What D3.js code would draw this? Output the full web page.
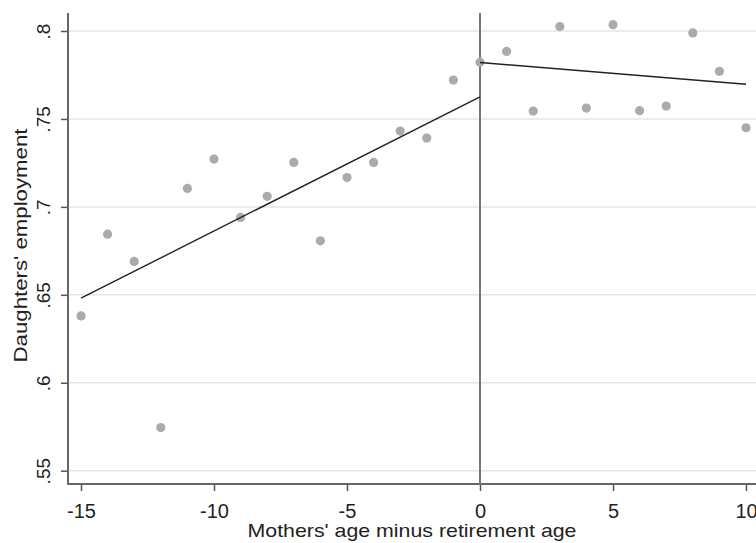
<!DOCTYPE html>
<html>
<head>
<meta charset="utf-8">
<script src="https://cdn.jsdelivr.net/npm/d3@7"></script>
<style>
  html, body { margin: 0; padding: 0; background: #fff; }
  svg { display: block; font-family: "Liberation Sans", Arial, sans-serif; }
</style>
</head>
<body>
<svg id="chart"></svg>
<script>
// binned means: mothers' age minus retirement age vs daughters' employment
const ages = [-15, -14, -13, -12, -11, -10, -9, -8, -7, -6, -5, -4, -3, -2, -1,
              0, 1, 2, 3, 4, 5, 6, 7, 8, 9, 10];
const employment = [0.638, 0.6845, 0.669, 0.5745, 0.7105, 0.7272, 0.694, 0.706, 0.7253, 0.6807,
                    0.7167, 0.7253, 0.7431, 0.7391, 0.7721,
                    0.7822, 0.7884, 0.7545, 0.8025, 0.7562, 0.8036, 0.7547, 0.7573, 0.7989, 0.7771, 0.745];

// fitted lines either side of the cutoff
const fitLeft = [[-15, 0.6481], [0, 0.7626]];
const fitRight = [[0, 0.7821], [10, 0.7697]];

const xTicks = [-15, -10, -5, 0, 5, 10];
const yTicks = [0.55, 0.6, 0.65, 0.7, 0.75, 0.8];
const yTickLabels = [".55", ".6", ".65", ".7", ".75", ".8"];

const width = 756;
const height = 543;
const plotLeft = 68;
const plotRight = 756;
const plotTop = 13;
const plotBottom = 484;

let svg = d3.select("#chart")
    .attr("width", width)
    .attr("height", height);

let x = d3.scaleLinear().domain([-15, 10]).range([81, 746]);
let y = d3.scaleLinear().domain([0.55, 0.8]).range([470.7, 31]);

// grid lines
svg.append("g")
    .selectAll("line")
    .data(yTicks)
    .enter()
    .append("line")
    .attr("x1", plotLeft)
    .attr("x2", plotRight)
    .attr("y1", d => y(d))
    .attr("y2", d => y(d))
    .attr("stroke", "#e6e6e6")
    .attr("stroke-width", 1.5);

// axes
let axisY = d3.axisLeft(y)
    .tickValues(yTicks)
    .tickSize(7)
    .tickFormat((d, i) => yTickLabels[i]);

let gy = svg.append("g")
    .attr("transform", `translate(${plotLeft},0)`)
    .call(axisY);
gy.select(".domain").remove();
gy.selectAll(".tick line").attr("stroke", "#555").attr("stroke-width", 1.5);
gy.selectAll(".tick text")
    .attr("x", 0)
    .attr("dy", 0)
    .attr("transform", "translate(-18,0) rotate(-90)")
    .style("text-anchor", "middle")
    .attr("fill", "#222")
    .style("font-size", "19px");

let axisX = d3.axisBottom(x)
    .tickValues(xTicks)
    .tickSize(7)
    .tickFormat(d => String(d));

let gx = svg.append("g")
    .attr("transform", `translate(0,${plotBottom})`)
    .call(axisX);
gx.select(".domain").remove();
gx.selectAll(".tick line").attr("stroke", "#555").attr("stroke-width", 1.5);
gx.selectAll(".tick text")
    .attr("y", 0)
    .attr("dy", 34)
    .attr("fill", "#222")
    .style("font-size", "20px");

svg.append("line")
    .attr("x1", plotLeft).attr("x2", plotLeft)
    .attr("y1", plotTop).attr("y2", plotBottom + 0.75)
    .attr("stroke", "#666").attr("stroke-width", 2);

svg.append("line")
    .attr("x1", plotLeft).attr("x2", plotRight)
    .attr("y1", plotBottom).attr("y2", plotBottom)
    .attr("stroke", "#666").attr("stroke-width", 2);

// cutoff at zero
svg.append("line")
    .attr("x1", x(0)).attr("x2", x(0))
    .attr("y1", plotTop).attr("y2", plotBottom)
    .attr("stroke", "#777").attr("stroke-width", 2);

// dots
svg.append("g")
    .selectAll("circle")
    .data(ages.map((a, i) => [a, employment[i]]))
    .enter()
    .append("circle")
    .attr("cx", d => x(d[0]))
    .attr("cy", d => y(d[1]))
    .attr("r", 4.6)
    .attr("fill", "#ababaf");

// fitted lines
let line = d3.line().x(d => x(d[0])).y(d => y(d[1]));
[fitLeft, fitRight].forEach(fit => {
    svg.append("path")
        .datum(fit)
        .attr("d", line)
        .attr("fill", "none")
        .attr("stroke", "#222")
        .attr("stroke-width", 1.4);
});

// axis titles
svg.append("text")
    .attr("x", (plotLeft + plotRight) / 2)
    .attr("y", 537)
    .attr("text-anchor", "middle")
    .attr("fill", "#222")
    .attr("textLength", 329)
    .attr("lengthAdjust", "spacingAndGlyphs")
    .style("font-size", "19px")
    .text("Mothers' age minus retirement age");

svg.append("text")
    .attr("transform", `translate(27,${(plotTop + plotBottom) / 2 - 3}) rotate(-90)`)
    .attr("text-anchor", "middle")
    .attr("fill", "#222")
    .attr("textLength", 234)
    .attr("lengthAdjust", "spacingAndGlyphs")
    .style("font-size", "18px")
    .text("Daughters' employment");
</script>
</body>
</html>
